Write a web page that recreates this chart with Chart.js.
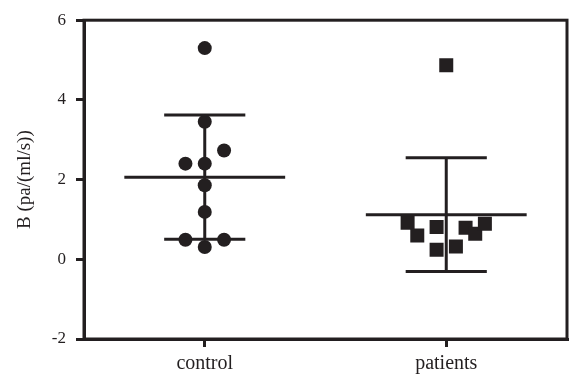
<!DOCTYPE html>
<html>
<head>
<meta charset="utf-8">
<script src="https://cdn.jsdelivr.net/npm/chart.js@4/dist/chart.umd.min.js"></script>
<style>
  html, body { margin: 0; padding: 0; background: #fff; overflow: hidden; }
  #wrap { width: 569px; height: 379px; position: relative; }
  canvas { display: block; }
</style>
</head>
<body>
<div id="wrap"><canvas id="c"></canvas></div>
<script>
// Groups on the x axis
const categories = ['control', 'patients'];

// Individual measurements, B (pa/(ml/s))
const controlValues  = [5.30, 3.45, 2.73, 2.40, 2.40, 1.86, 1.19, 0.49, 0.49, 0.31];
const patientValues  = [4.87, 0.92, 0.60, 0.81, 0.24, 0.32, 0.79, 0.64, 0.89];

// Horizontal scatter of each dot around its group (in category units)
const controlJitter  = [0, 0, 0.08, -0.08, 0, 0, 0, -0.08, 0.08, 0];
const patientJitter  = [0, -0.16, -0.12, -0.04, -0.04, 0.04, 0.08, 0.12, 0.16];

// y axis ticks
const yTicks = [-2, 0, 2, 4, 6];

const ink = '#231f20';

function mean(a) { return a.reduce((s, v) => s + v, 0) / a.length; }
function sd(a) {
  const m = mean(a);
  return Math.sqrt(a.reduce((s, v) => s + (v - m) * (v - m), 0) / (a.length - 1));
}

const groups = [controlValues, patientValues];
const meanHalf = 0.333, capHalf = 0.168;

// Mean line plus SD whiskers for each group
const summaryDatasets = [];
groups.forEach((vals, i) => {
  const c = i + 1, m = mean(vals), s = sd(vals);
  const lineDs = (pts) => ({
    type: 'line', data: pts, borderColor: ink, borderWidth: 3,
    pointRadius: 0, fill: false, tension: 0, order: 2, borderCapStyle: 'butt'
  });
  summaryDatasets.push(lineDs([{x: c - meanHalf, y: m}, {x: c + meanHalf, y: m}]));
  summaryDatasets.push(lineDs([{x: c - capHalf, y: m + s}, {x: c + capHalf, y: m + s}]));
  summaryDatasets.push(lineDs([{x: c - capHalf, y: m - s}, {x: c + capHalf, y: m - s}]));
  summaryDatasets.push(lineDs([{x: c, y: m - s}, {x: c, y: m + s}]));
});

const frame = {
  id: 'frame',
  afterDatasetsDraw(chart) {
    const a = chart.chartArea, ctx = chart.ctx;
    ctx.save();
    ctx.strokeStyle = ink;
    ctx.lineWidth = 3;
    ctx.strokeRect(a.left, a.top, a.right - a.left, a.bottom - a.top);
    ctx.restore();
  }
};

new Chart(document.getElementById('c'), {
  type: 'scatter',
  data: {
    datasets: [
      {
        data: controlValues.map((v, k) => ({x: 1 + controlJitter[k], y: v})),
        pointStyle: 'circle', pointRadius: 7, pointHoverRadius: 7,
        backgroundColor: ink, borderColor: ink, borderWidth: 0, order: 1
      },
      {
        data: patientValues.map((v, k) => ({x: 2 + patientJitter[k], y: v})),
        pointStyle: 'rect', pointRadius: 9.9, pointHoverRadius: 9.9,
        backgroundColor: ink, borderColor: ink, borderWidth: 0, order: 1
      },
      ...summaryDatasets
    ]
  },
  plugins: [frame],
  options: {
    responsive: true,
    maintainAspectRatio: false,
    animation: false,
    layout: { autoPadding: false, padding: { top: 18, right: 2, left: 0, bottom: 0 } },
    plugins: { legend: { display: false }, tooltip: { enabled: false } },
    scales: {
      x: {
        type: 'linear', min: 0.5, max: 2.5,
        afterBuildTicks(scale) { scale.ticks = categories.map((_, i) => ({value: i + 1})); },
        afterFit(scale) { scale.height = 40; },
        ticks: {
          callback: (v) => categories[v - 1] || '',
          color: ink, padding: 5,
          font: { family: 'Liberation Serif', size: 20 }
        },
        grid: { display: true, drawOnChartArea: false, drawTicks: true, tickLength: 8, lineWidth: 3, color: ink },
        border: { display: true, width: 3, color: ink }
      },
      y: {
        min: -2, max: 6,
        afterBuildTicks(scale) { scale.ticks = yTicks.map(v => ({value: v})); },
        afterFit(scale) { scale.width = 84; },
        ticks: {
          color: ink, padding: 10,
          font: { family: 'Liberation Serif', size: 17 }
        },
        title: {
          display: true, text: 'B (pa/(ml/s))', color: ink,
          font: { family: 'Liberation Serif', size: 19 },
          padding: { top: 14, bottom: 0 }
        },
        grid: { display: true, drawOnChartArea: false, drawTicks: true, tickLength: 8, lineWidth: 3, color: ink },
        border: { display: true, width: 3, color: ink }
      }
    }
  }
});
</script>
</body>
</html>
